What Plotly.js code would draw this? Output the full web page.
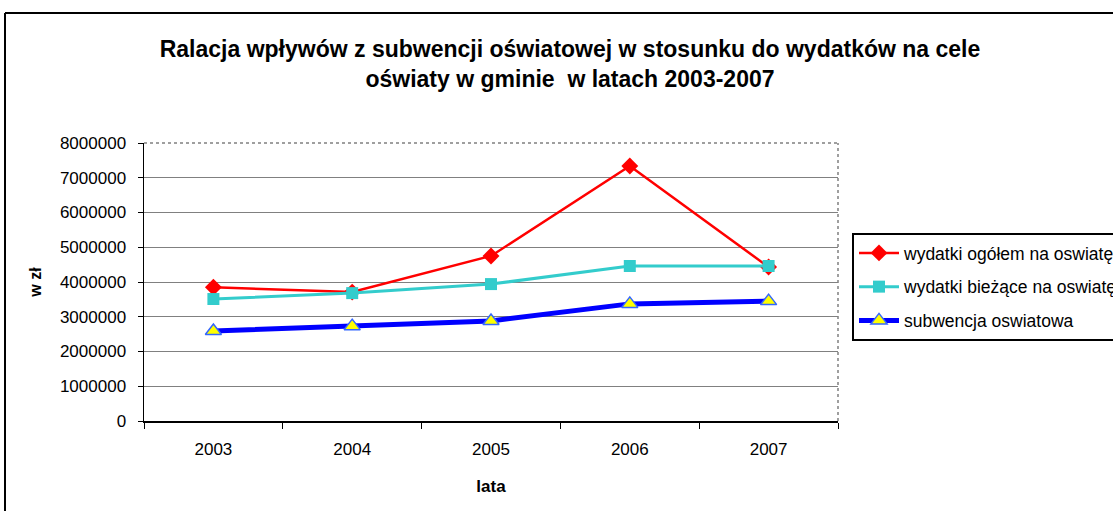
<!DOCTYPE html>
<html>
<head>
<meta charset="utf-8">
<script src="https://cdn.plot.ly/plotly-3.0.1.min.js"></script>
<style>html,body{margin:0;padding:0;background:#fff;}#chart{width:1113px;height:511px;}</style>
</head>
<body>
<div id="chart"></div>
<script>
var years = ['2003', '2004', '2005', '2006', '2007'];
var wydatkiOgolem = [3850000, 3710000, 4750000, 7340000, 4430000];
var wydatkiBiezace = [3510000, 3680000, 3940000, 4460000, 4460000];
var subwencja = [2590000, 2730000, 2880000, 3370000, 3450000];
var yTicks = [0, 1000000, 2000000, 3000000, 4000000, 5000000, 6000000, 7000000, 8000000];

var L = 144, R = 838, T = 143, B = 421, W = 1113, H = 511;
function px(x){ return (x - L) / (R - L); }
function py(y){ return (B - y) / (B - T); }

var traces = [
  {x: years, y: wydatkiOgolem, name: 'wydatki ogółem na oswiatę', legendgroup: 'a', mode: 'lines+markers', type: 'scatter',
   line: {color: '#ff0000', width: 2.5}, marker: {symbol: 'diamond', size: 13, color: '#ff0000'}},
  {x: years, y: wydatkiBiezace, name: 'wydatki bieżące na oswiatę', legendgroup: 'b', mode: 'lines+markers', type: 'scatter',
   line: {color: '#33cccc', width: 3}, marker: {symbol: 'square', size: 12, color: '#33cccc'}},
  {x: years, y: subwencja, name: 'subwencja oswiatowa', legendgroup: 'c', mode: 'lines+markers', type: 'scatter',
   line: {color: '#0000ff', width: 5}, marker: {symbol: 'triangle-up', size: 14, color: '#ffff00', line: {color: '#3366ff', width: 1.5}}}
];

var layout = {
  width: W, height: H,
  margin: {l: L, r: W - R, t: T, b: H - B, pad: 0, autoexpand: false},
  paper_bgcolor: '#ffffff', plot_bgcolor: '#ffffff',
  font: {family: 'Arial, Liberation Sans, sans-serif', size: 17, color: '#000'},
  showlegend: true,
  title: {text: '<b>Ralacja wpływów z subwencji oświatowej w stosunku do wydatków na cele<br>oświaty w gminie  w latach 2003-2007</b>',
          x: 570 / W, xref: 'container', xanchor: 'center', y: 1 - 57 / H, yref: 'container', yanchor: 'middle',
          font: {family: 'Arial, Liberation Sans, sans-serif', size: 23, color: '#000'}},
  xaxis: {type: 'category', range: [-0.5, 4.5], showgrid: false, zeroline: false,
          showline: true, linecolor: '#000', linewidth: 1.5, ticks: 'outside', tickson: 'boundaries',
          ticklen: 6, tickcolor: '#000', tickwidth: 1, tickfont: {size: 17}, ticklabelstandoff: 12,
          title: {text: '<b>lata</b>', font: {size: 17}, standoff: 22}},
  yaxis: {range: [0, 8000000], tickvals: yTicks, ticktext: yTicks.map(String),
          showgrid: true, gridcolor: '#808080', gridwidth: 1, zeroline: false,
          showline: true, linecolor: '#000', linewidth: 1.5, ticks: 'outside', ticklen: 5,
          tickcolor: '#000', tickwidth: 1, tickfont: {size: 17}, ticklabelstandoff: 8,
          title: {text: '<b>w zł</b>', font: {size: 16}, standoff: 14}},
  legend: {x: px(852), xanchor: 'left', y: py(233), yanchor: 'top',
           bordercolor: '#000', borderwidth: 2, bgcolor: '#fff',
           font: {size: 17.5}, tracegroupgap: 8, itemwidth: 40},
  shapes: [
    {type: 'line', xref: 'paper', yref: 'paper', x0: 0, x1: 1, y0: 1, y1: 1, line: {color: '#808080', width: 1.5, dash: 'dot'}},
    {type: 'line', xref: 'paper', yref: 'paper', x0: 1, x1: 1, y0: 0, y1: 1, line: {color: '#808080', width: 1.5, dash: 'dot'}},
    {type: 'line', xref: 'paper', yref: 'paper', x0: px(5), x1: px(W + 5), y0: py(13), y1: py(13), line: {color: '#000', width: 2}},
    {type: 'line', xref: 'paper', yref: 'paper', x0: px(5), x1: px(5), y0: py(13), y1: py(H + 5), line: {color: '#000', width: 2}}
  ]
};

Plotly.newPlot('chart', traces, layout, {displayModeBar: false, staticPlot: true});
</script>
</body>
</html>
